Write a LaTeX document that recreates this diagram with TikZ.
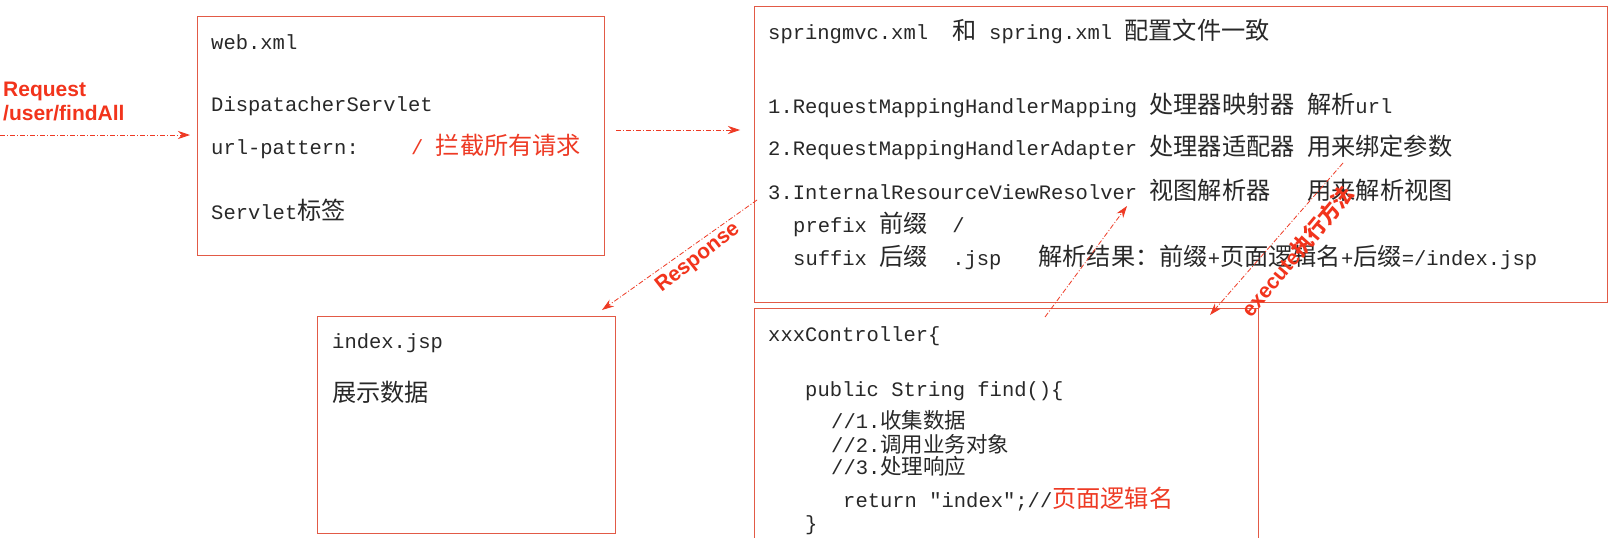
\documentclass[tikz,border=0pt]{standalone}
\usepackage{fontspec}
\setmonofont{Liberation Mono}
\setsansfont{Liberation Sans}
\newfontfamily\cjk{Noto Sans CJK SC}
\usetikzlibrary{arrows.meta}
\definecolor{boxred}{RGB}{226,90,70}
\definecolor{arrred}{RGB}{238,58,36}
\definecolor{txt}{RGB}{40,40,40}
\definecolor{lblred}{RGB}{242,52,28}
\newcommand\zh[1]{{\cjk\fontsize{24.2}{28}\selectfont #1}}
\newcommand\zhs[1]{{\cjk\fontsize{21.5}{24}\selectfont #1}}
\newcommand\zhb[1]{{\cjk\bfseries\fontsize{21}{24}\selectfont #1}}
\tikzset{
  box/.style={draw=boxred, line width=1.2pt, inner sep=0pt, anchor=north west},
  mono/.style={font=\ttfamily\fontsize{20.5}{24}\selectfont, text=txt, inner sep=0pt, anchor=mid west},
  redtxt/.style={mono, text=arrred},
  flow/.style={draw=arrred, line width=0.8pt, dash pattern=on 5pt off 2pt on 1pt off 2pt,
    -{Stealth[length=12pt,width=8pt]}},
  lbl/.style={font=\sffamily\bfseries\fontsize{21}{24}\selectfont, text=lblred, inner sep=0pt}
}
\begin{document}
\begin{tikzpicture}[x=1pt,y=-1pt]
\useasboundingbox (0,0) rectangle (1614,538);
\clip (0,0) rectangle (1614,538);
\fill[white] (0,0) rectangle (1614,538);
% boxes
\node[box, minimum width=407pt, minimum height=239pt] (web) at (197,16) {};
\node[box, minimum width=853pt, minimum height=296pt] (spring) at (754,6) {};
\node[box, minimum width=298pt, minimum height=217pt] (idx) at (317,316) {};
\node[box, minimum width=504pt, minimum height=240pt] (ctrl) at (754,308) {};
% web.xml box
\node[mono] (w1) at (211,47) {web.xml};
\node[mono] (w2) at (211,109) {DispatacherServlet};
\node[mono] (w3) at (211,152) {url-pattern:};
\node[redtxt] (w3r) at (411,152) {/~\zh{拦截所有请求}};
\node[mono] (w4) at (211,217) {Servlet\zh{标签}};
% springmvc box
\node[mono] (s0) at (768,37) {springmvc.xml~~\zh{和}~spring.xml~\zh{配置文件一致}};
\node[mono] (s1) at (768,111) {1.RequestMappingHandlerMapping~\zh{处理器映射器}~\zh{解析}url};
\node[mono] (s2) at (768,153) {2.RequestMappingHandlerAdapter~\zh{处理器适配器}~\zh{用来绑定参数}};
\node[mono] (s3) at (768,197) {3.InternalResourceViewResolver~\zh{视图解析器}~~~\zh{用来解析视图}};
\node[mono] (s4) at (793,230) {prefix~\zh{前缀}~~/};
\node[mono] (s5) at (793,263) {suffix~\zh{后缀}~~.jsp~~~\zh{解析结果：前缀}+\zh{页面逻辑名}+\zh{后缀}=/index.jsp};
% index.jsp box
\node[mono] (i1) at (332,346) {index.jsp};
\node[mono] (i2) at (332,399) {\zh{展示数据}};
% controller box
\node[mono] (c1) at (768,339) {xxxController\{};
\node[mono] (c2) at (805,394) {public~String~find()\{};
\node[mono] (c3) at (831,426) {//1.\zhs{收集数据}};
\node[mono] (c4) at (831,450) {//2.\zhs{调用业务对象}};
\node[mono] (c5) at (831,472) {//3.\zhs{处理响应}};
\node[mono] (c6) at (843,505) {return~"index";//{\color{arrred}\zh{页面逻辑名}}};
\node[mono] (c7) at (805,528) {\}};
% connectors
\coordinate (reqstart) at (0,135);
\draw[flow, shorten >=7pt] (reqstart) -- (web.west |- reqstart);
\coordinate (a2) at (0,130);
\draw[flow, shorten <=11pt, shorten >=14pt] (web.east |- a2) -- (spring.west |- a2);
\coordinate (rs) at (757,200);
\coordinate (re) at (602,310);
\draw[flow] (rs) -- (re);
\coordinate (vs) at (1045,317);
\coordinate (ve) at (1127,206);
\draw[flow] (vs) -- (ve);
\coordinate (es) at (1343,163);
\coordinate (ee) at (1210,315);
\draw[flow] (es) -- (ee);
% labels
\node[lbl, align=left, anchor=west] (req) at (3,101) {Request\\/user/findAll};
\node[lbl, rotate=38] (resp) at (698,258) {Response};
\node[lbl, rotate=50] (exec) at (1297,251) {execute\zhb{执行方法}};
\end{tikzpicture}
\end{document}
